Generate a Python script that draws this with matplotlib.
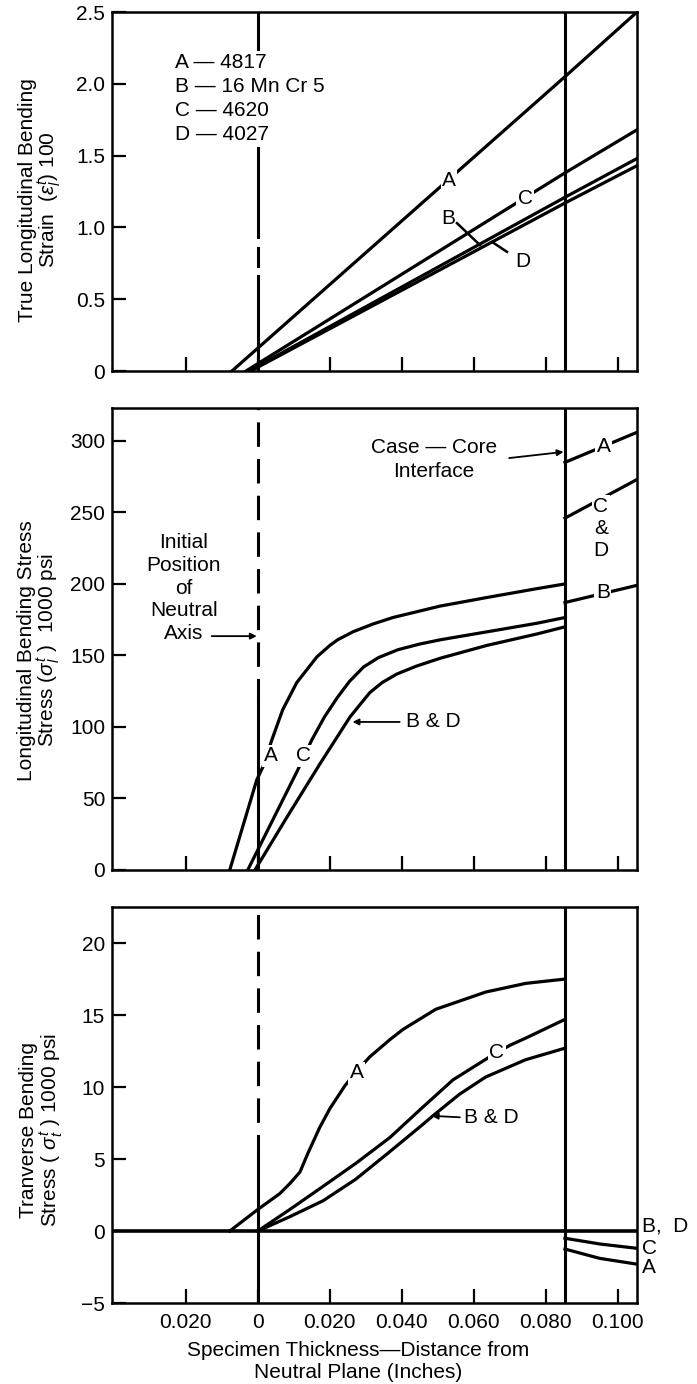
import matplotlib
matplotlib.use('Agg')
import matplotlib.pyplot as plt

plt.rcParams['font.family'] = ['Liberation Sans', 'DejaVu Sans']
plt.rcParams['font.size'] = 15
plt.rcParams['mathtext.fontset'] = 'custom'
plt.rcParams['mathtext.rm'] = 'Liberation Sans'
plt.rcParams['mathtext.it'] = 'Liberation Sans:italic'

# ---------------- data ----------------
NEUTRAL_X = 0.0
INTERFACE_X = 0.0853
X_MIN, X_MAX = -0.0405, 0.1053

x_ticks = [-0.02, 0.0, 0.02, 0.04, 0.06, 0.08, 0.10]
x_tick_labels = ['0.020', '0', '0.020', '0.040', '0.060', '0.080', '0.100']

# top panel: true longitudinal bending strain (x100)
strain_ticks = [0, 0.5, 1.0, 1.5, 2.0, 2.5]
strain_tick_labels = ['0', '0.5', '1.0', '1.5', '2.0', '2.5']
strain_A_x = [-0.0072, 0.0853, 0.1053]
strain_A_y = [0, 2.05, 2.5]
strain_B_x = [-0.0025, 0.0853, 0.1053]
strain_B_y = [0, 1.21, 1.48]
strain_C_x = [-0.0033, 0.0853, 0.1053]
strain_C_y = [0, 1.38, 1.68]
strain_D_x = [-0.0020, 0.0853, 0.1053]
strain_D_y = [0, 1.17, 1.43]

# middle panel: longitudinal bending stress, 1000 psi
long_ticks = [0, 50, 100, 150, 200, 250, 300]
long_A_x = [-0.0078, -0.0003, 0.0014, 0.0039, 0.0069, 0.0108, 0.0164, 0.0200,
            0.0222, 0.0264, 0.0320, 0.0375, 0.0506, 0.0636, 0.0775, 0.0853]
long_A_y = [0, 63, 72, 91, 112, 131, 149, 157, 161, 166.5, 172, 176.5, 184.5,
            190.5, 196.7, 200]
long_C_x = [-0.0028, 0.0111, 0.0150, 0.0185, 0.0222, 0.0255, 0.0294, 0.0335,
            0.0389, 0.0450, 0.0508, 0.0636, 0.0775, 0.0853]
long_C_y = [0, 70, 91, 107, 121, 132, 142, 148.5, 154, 158, 161, 166.5, 172.5,
            176.5]
long_BD_x = [-0.0008, 0.0081, 0.0172, 0.0256, 0.0285, 0.0311, 0.0345, 0.0386,
             0.0440, 0.0506, 0.0636, 0.0775, 0.0853]
long_BD_y = [0, 37, 74, 107, 116, 124, 131, 137, 142.5, 148, 157, 165, 170]
# core side (beyond case-core interface)
core_x = [0.0853, 0.1053]
long_core_A_y = [285, 306]
long_core_CD_y = [246, 273]
long_core_B_y = [187, 199]

# bottom panel: transverse bending stress, 1000 psi
trans_ticks = [-5, 0, 5, 10, 15, 20]
trans_tick_labels = ['\u22125', '0', '5', '10', '15', '20']
trans_A_x = [-0.0078, 0.0, 0.0061, 0.0089, 0.0117, 0.0139, 0.0172, 0.0200,
             0.0242, 0.0278, 0.0311, 0.0367, 0.0403, 0.0494, 0.0633, 0.0744,
             0.0853]
trans_A_y = [0, 1.5, 2.6, 3.3, 4.1, 5.4, 7.2, 8.5, 10.1, 11.2, 12.1, 13.3,
             14.0, 15.4, 16.6, 17.2, 17.5]
trans_C_x = [0.0, 0.0089, 0.0181, 0.0272, 0.0367, 0.0458, 0.0542, 0.0644,
             0.0700, 0.0744, 0.0853]
trans_C_y = [0, 1.5, 3.1, 4.7, 6.5, 8.6, 10.5, 12.1, 12.9, 13.4, 14.7]
trans_BD_x = [0.0, 0.0089, 0.0181, 0.0272, 0.0361, 0.0458, 0.0486, 0.0560,
              0.0633, 0.0744, 0.0853]
trans_BD_y = [0, 1.0, 2.1, 3.6, 5.4, 7.4, 8.0, 9.5, 10.7, 11.9, 12.7]
core3_x = [0.0853, 0.0950, 0.1053]
trans_core_C_y = [-0.5, -0.9, -1.2]
trans_core_A_y = [-1.25, -1.9, -2.3]

steels = ['A \u2014 4817', 'B \u2014 16 Mn Cr 5', 'C \u2014 4620', 'D \u2014 4027']

LW = 2.3
K = 'black'

fig = plt.figure(figsize=(6.97, 13.84), dpi=100)
ax1 = fig.add_axes([0.1607, 0.7319, 0.7532, 0.2594])
ax2 = fig.add_axes([0.1607, 0.3714, 0.7532, 0.3338])
ax3 = fig.add_axes([0.1607, 0.0585, 0.7532, 0.2861])


def style(ax, yt, ytl, ylim, show_x):
    ax.set_xlim(X_MIN, X_MAX)
    ax.set_ylim(*ylim)
    ax.set_xticks(x_ticks)
    ax.set_yticks(yt)
    ax.set_yticklabels(ytl)
    if show_x:
        ax.set_xticklabels(x_tick_labels)
    else:
        ax.set_xticklabels([])
    ax.tick_params(direction='in', length=10, width=1.6, pad=5, labelsize=15)
    ax.tick_params(axis='x', pad=7)
    for s in ax.spines.values():
        s.set_linewidth(1.8)
    # case-core interface
    ax.axvline(INTERFACE_X, color=K, lw=2.2, zorder=2)


def lbl(ax, x, y, s, **kw):
    ax.text(x, y, s, ha='center', va='center', zorder=6,
            bbox=dict(fc='white', ec='none', pad=1.0), **kw)


def arrow(ax, tip, tail):
    ax.annotate('', xy=tip, xytext=tail,
                arrowprops=dict(arrowstyle='-|>', color=K, lw=1.3,
                                mutation_scale=9, shrinkA=0, shrinkB=0))


# ---------- top panel ----------
style(ax1, strain_ticks, strain_tick_labels, (0, 2.5), False)
for seg in [(2.24, 2.5), (0.93, 1.55), (0.73, 0.86), (0, 0.66)]:
    ax1.plot([NEUTRAL_X, NEUTRAL_X], seg, color=K, lw=2.2, zorder=2)
ax1.plot(strain_A_x, strain_A_y, color=K, lw=LW, zorder=3)
ax1.plot(strain_C_x, strain_C_y, color=K, lw=LW, zorder=3)
ax1.plot(strain_B_x, strain_B_y, color=K, lw=LW, zorder=3)
ax1.plot(strain_D_x, strain_D_y, color=K, lw=LW, zorder=3)
lbl(ax1, 0.0531, 1.33, 'A')
lbl(ax1, 0.0742, 1.205, 'C')
ax1.text(0.0528, 1.065, 'B', ha='center', va='center', zorder=6)
ax1.text(0.0736, 0.76, 'D', ha='center', va='center', zorder=6)
ax1.plot([0.0553, 0.0617], [1.03, 0.877], color=K, lw=1.8, zorder=4)
ax1.plot([0.0692, 0.0653], [0.83, 0.895], color=K, lw=1.8, zorder=4)
for i, s in enumerate(steels):
    ax1.text(-0.0231, 2.15 - 0.168 * i, s, ha='left', va='center')

# ---------- middle panel ----------
style(ax2, long_ticks, [str(t) for t in long_ticks], (0, 323), False)
ax2.plot([NEUTRAL_X, NEUTRAL_X], [117, 323], color=K, lw=2.2,
         ls=(0, (8, 4)), zorder=2)
ax2.plot([NEUTRAL_X, NEUTRAL_X], [0, 117], color=K, lw=2.2, zorder=2)
ax2.plot(long_A_x, long_A_y, color=K, lw=LW, zorder=3)
ax2.plot(long_C_x, long_C_y, color=K, lw=LW, zorder=3)
ax2.plot(long_BD_x, long_BD_y, color=K, lw=LW, zorder=3)
ax2.plot(core_x, long_core_A_y, color=K, lw=LW, zorder=3)
ax2.plot(core_x, long_core_CD_y, color=K, lw=LW, zorder=3)
ax2.plot(core_x, long_core_B_y, color=K, lw=LW, zorder=3)
lbl(ax2, 0.0036, 80, 'A')
lbl(ax2, 0.0128, 80, 'C')
lbl(ax2, 0.0960, 296, 'A')
lbl(ax2, 0.0953, 239, 'C\n&\nD', linespacing=1.2)
lbl(ax2, 0.0958, 194, 'B')
ax2.text(-0.0206, 197, 'Initial\nPosition\nof\nNeutral\nAxis',
         ha='center', va='center', linespacing=1.25, zorder=6)
arrow(ax2, (-0.0003, 163.5), (-0.0128, 163.5))
ax2.text(0.0489, 287, 'Case \u2014 Core\nInterface', ha='center',
         va='center', linespacing=1.3, zorder=6)
arrow(ax2, (0.0849, 292.3), (0.0698, 288))
arrow(ax2, (0.0263, 103.5), (0.0394, 103.5))
ax2.text(0.0411, 103.5, 'B & D', ha='left', va='center', zorder=6)

# ---------- bottom panel ----------
style(ax3, trans_ticks, trans_tick_labels, (-5, 22.5), True)
ax3.plot([NEUTRAL_X, NEUTRAL_X], [5, 22.5], color=K, lw=2.2,
         ls=(0, (8, 4)), zorder=2)
ax3.plot([NEUTRAL_X, NEUTRAL_X], [-5, 5], color=K, lw=2.2, zorder=2)
ax3.axhline(0, color=K, lw=2.6, zorder=3)
ax3.plot(trans_A_x, trans_A_y, color=K, lw=LW, zorder=3)
ax3.plot(trans_C_x, trans_C_y, color=K, lw=LW, zorder=3)
ax3.plot(trans_BD_x, trans_BD_y, color=K, lw=LW, zorder=3)
ax3.plot(core3_x, trans_core_C_y, color=K, lw=LW, zorder=3)
ax3.plot(core3_x, trans_core_A_y, color=K, lw=LW, zorder=3)
lbl(ax3, 0.0275, 11.0, 'A')
lbl(ax3, 0.0664, 12.4, 'C')
arrow(ax3, (0.0483, 8.0), (0.0561, 7.9))
ax3.text(0.0572, 7.9, 'B & D', ha='left', va='center', zorder=6)
ax3.text(0.1067, 0.35, 'B,  D', ha='left', va='center', clip_on=False)
ax3.text(0.1067, -1.2, 'C', ha='left', va='center', clip_on=False)
ax3.text(0.1067, -2.5, 'A', ha='left', va='center', clip_on=False)

# axis titles
fig.text(0.058, 0.8555, 'True Longitudinal Bending\nStrain  ($\\epsilon^{t}_{l}$) 100',
         rotation=90, ha='center', va='center', multialignment='center',
         linespacing=0.95)
fig.text(0.057, 0.530, 'Longitudinal Bending Stress\nStress ($\\sigma^{t}_{l}$ )  1000 psi',
         rotation=90, ha='center', va='center', multialignment='center',
         linespacing=0.95)
fig.text(0.060, 0.1835, 'Tranverse Bending\nStress ( $\\sigma^{t}_{t}$ ) 1000 psi',
         rotation=90, ha='center', va='center', multialignment='center',
         linespacing=0.95)
fig.text(0.5136, 0.0166, 'Specimen Thickness\u2014Distance from\nNeutral Plane (Inches)',
         ha='center', va='center', linespacing=1.2)

fig.savefig('out.png', dpi=100)
